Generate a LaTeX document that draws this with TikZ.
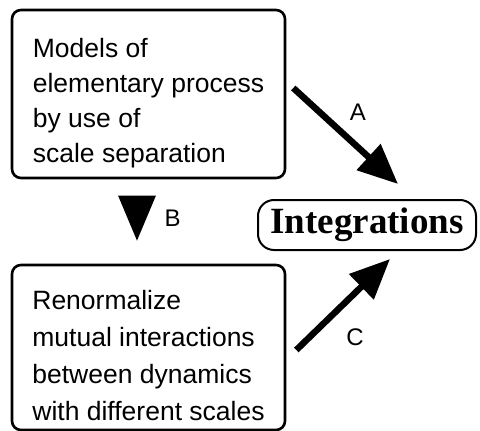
\documentclass[tikz,border=0pt]{standalone}
\usepackage{fontspec}
\setmainfont{Liberation Sans}
\newfontfamily\serifbold{Liberation Serif}
\usetikzlibrary{arrows.meta}

\begin{document}
\begin{tikzpicture}[
  x=1pt, y=-1pt,
  every node/.style={font=\fontsize{26.5}{35}\selectfont},
  boxnode/.style={rectangle, draw, line width=2.6pt, rounded corners=9pt, minimum width=273pt, align=left, inner sep=0pt},
  goalnode/.style={rectangle, draw, line width=2pt, rounded corners=16pt, minimum width=218pt, minimum height=50pt, inner sep=0pt, font=\serifbold\bfseries\fontsize{37}{40}\selectfont},
  arrowlabel/.style={inner sep=0pt, font=\fontsize{24}{28}\selectfont},
  bigarrow/.style={line width=6.5pt, -{Triangle[length=40pt, width=34pt]}},
]
\useasboundingbox (0,0) rectangle (480,431);

% Boxes
\node[boxnode, minimum height=168pt, text height=142pt] (models) at (148.5,94) {Models of\\elementary process\\by use of\\scale separation};
\node[boxnode, minimum height=165pt, text height=147pt, font=\fontsize{26.5}{37}\selectfont] (renorm) at (148.5,347.5) {Renormalize\\mutual interactions\\between dynamics\\with different scales};
\node[goalnode] (integ) at (367,225) {Integrations};

% Arrows
\draw[bigarrow] ([shift={(7,-6)}]models.east) -- node[arrowlabel, anchor=south west, shift={(1,-12)}] (labA) {A} ([shift={(31,-15)}]integ.north);
\draw[line width=3pt, -{Triangle[length=45pt, width=37pt]}] ([shift={(-11.5,17)}]models.south) -- node[arrowlabel, anchor=west, shift={(26,0)}] (labB) {B} ([shift={(-11.5,-23)}]renorm.north);
\draw[bigarrow] ([shift={(10,2.5)}]renorm.east) -- node[arrowlabel, anchor=north west, shift={(0,21)}] (labC) {C} ([shift={(23,8)}]integ.south);

\end{tikzpicture}
\end{document}
